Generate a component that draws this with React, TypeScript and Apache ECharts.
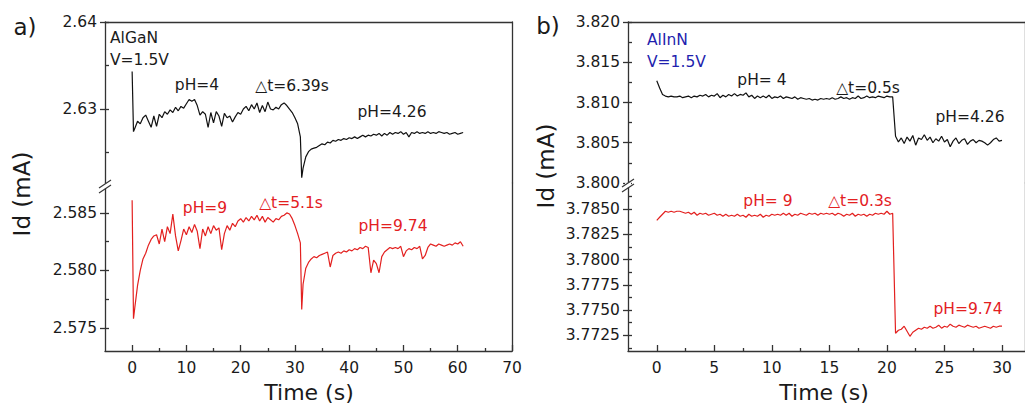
import React, { useEffect, useRef } from "react";
import * as echarts from "echarts";

// ---------- data ----------
// Panel a) AlGaN, time in s
const timeA = [
  0, 0.25, 0.5, 1, 1.5, 2, 2.5, 3, 3.5, 4,
  4.5, 5, 5.5, 6, 6.5, 7, 7.5, 8, 8.5, 9,
  9.5, 10, 10.5, 11, 11.5, 12, 12.5, 13, 13.5, 14,
  14.5, 15, 15.5, 16, 16.5, 17, 17.5, 18, 18.5, 19,
  19.5, 20, 20.5, 21, 21.5, 22, 22.5, 23, 23.5, 24,
  24.5, 25, 25.5, 26, 26.5, 27, 27.5, 28, 28.5, 29,
  29.5, 30, 30.5, 31, 31.25, 31.5, 32, 32.5, 33, 33.5,
  34, 34.5, 35, 35.5, 36, 36.5, 37, 37.5, 38, 38.5,
  39, 39.5, 40, 40.5, 41, 41.5, 42, 42.5, 43, 43.5,
  44, 44.5, 45, 45.5, 46, 46.5, 47, 47.5, 48, 48.5,
  49, 49.5, 50, 50.5, 51, 51.5, 52, 52.5, 53, 53.5,
  54, 54.5, 55, 55.5, 56, 56.5, 57, 57.5, 58, 58.5,
  59, 59.5, 60, 60.5, 61,
];
// Id (mA), pH = 4 -> 4.26
const algaNpH4 = [
  2.6343, 2.6274, 2.6278, 2.6286, 2.6283, 2.629, 2.6293, 2.6286, 2.6279, 2.6292,
  2.628, 2.6294, 2.629, 2.6297, 2.6294, 2.6299, 2.6296, 2.6302, 2.6298, 2.6303,
  2.6301, 2.6306, 2.6311, 2.6309, 2.6311, 2.6304, 2.6293, 2.6297, 2.6294, 2.6279,
  2.6296, 2.6284, 2.6297, 2.6292, 2.628, 2.6295, 2.629, 2.6292, 2.6285, 2.6291,
  2.6296, 2.6294, 2.63, 2.6303, 2.6298, 2.6305, 2.63, 2.6307, 2.6296, 2.6304,
  2.6297, 2.6308, 2.63, 2.6299, 2.6302, 2.63, 2.6305, 2.6307, 2.6304, 2.63,
  2.6296, 2.629, 2.6283, 2.6268, 2.6221, 2.6232, 2.6245, 2.6251, 2.6254, 2.6255,
  2.6256, 2.6258, 2.626, 2.6259, 2.6262, 2.6261, 2.6264, 2.6263, 2.6265, 2.6264,
  2.6266, 2.6265, 2.6267, 2.6266, 2.6268, 2.6266, 2.6268, 2.627, 2.6268, 2.627,
  2.6269, 2.6271, 2.627, 2.6272, 2.6269, 2.6272, 2.627, 2.6273, 2.6271, 2.6273,
  2.6272, 2.6274, 2.6271, 2.6273, 2.6268, 2.6273, 2.6272, 2.6274, 2.6272, 2.6273,
  2.6272, 2.6274, 2.6272, 2.6273, 2.6272, 2.6274, 2.6273, 2.6272, 2.6273, 2.6271,
  2.6272, 2.6273, 2.6271, 2.6272, 2.6273,
];
// Id (mA), pH = 9 -> 9.74
const algaNpH9 = [
  2.5861, 2.5758, 2.5768, 2.5787, 2.58, 2.581, 2.5815, 2.5822, 2.5827, 2.583,
  2.5831, 2.5823, 2.5836, 2.5825, 2.5838, 2.5832, 2.5849, 2.583, 2.5817, 2.5826,
  2.5836, 2.5831, 2.5838, 2.5833, 2.584, 2.5834, 2.5819, 2.5836, 2.583, 2.5838,
  2.5832, 2.5839, 2.5835, 2.5837, 2.5818, 2.5832, 2.5839, 2.5835, 2.5841, 2.5838,
  2.5843, 2.5845, 2.5842, 2.5846, 2.5843, 2.5847, 2.5844, 2.5848, 2.5843, 2.5847,
  2.5842, 2.5846, 2.5844, 2.5842, 2.5845, 2.5844, 2.5847, 2.5848, 2.585, 2.5849,
  2.5845, 2.5839, 2.5832, 2.5824, 2.5766, 2.5788, 2.5802, 2.5807, 2.581, 2.5812,
  2.5811, 2.5813, 2.5814, 2.5815, 2.5816, 2.5803, 2.5813, 2.5815, 2.5816, 2.5815,
  2.5817, 2.5816, 2.5818, 2.5817, 2.5819, 2.5818, 2.582, 2.5819, 2.5821, 2.582,
  2.5798, 2.5809, 2.5806, 2.5798, 2.5812, 2.5816, 2.5818, 2.582, 2.5819, 2.582,
  2.5819, 2.5821, 2.5812, 2.5817, 2.5819, 2.5818, 2.582, 2.5819, 2.5821, 2.581,
  2.5813, 2.582, 2.5823, 2.5822, 2.5821, 2.5823, 2.5822, 2.5821, 2.5822, 2.5823,
  2.5822, 2.5824, 2.5823, 2.5825, 2.5821,
];

// Panel b) AlInN, time in s
const timeB = [
  0, 0.25, 0.5, 0.75, 1, 1.25, 1.5, 1.75,
  2, 2.25, 2.5, 2.75, 3, 3.25, 3.5, 3.75,
  4, 4.25, 4.5, 4.75, 5, 5.25, 5.5, 5.75,
  6, 6.25, 6.5, 6.75, 7, 7.25, 7.5, 7.75,
  8, 8.25, 8.5, 8.75, 9, 9.25, 9.5, 9.75,
  10, 10.25, 10.5, 10.75, 11, 11.25, 11.5, 11.75,
  12, 12.25, 12.5, 12.75, 13, 13.25, 13.5, 13.75,
  14, 14.25, 14.5, 14.75, 15, 15.25, 15.5, 15.75,
  16, 16.25, 16.5, 16.75, 17, 17.25, 17.5, 17.75,
  18, 18.25, 18.5, 18.75, 19, 19.25, 19.5, 19.75,
  20, 20.25, 20.5, 20.75, 21, 21.25, 21.5, 21.75,
  22, 22.25, 22.5, 22.75, 23, 23.25, 23.5, 23.75,
  24, 24.25, 24.5, 24.75, 25, 25.25, 25.5, 25.75,
  26, 26.25, 26.5, 26.75, 27, 27.25, 27.5, 27.75,
  28, 28.25, 28.5, 28.75, 29, 29.25, 29.5, 29.75,
  30,
];
const alInNpH4 = [
  3.8127, 3.8118, 3.811, 3.8108, 3.8107, 3.8108, 3.8107, 3.8107,
  3.8108, 3.8106, 3.8107, 3.8108, 3.8106, 3.8108, 3.8107, 3.8109,
  3.8108, 3.811, 3.8107, 3.8109, 3.8108, 3.8111, 3.8106, 3.8109,
  3.8107, 3.811, 3.8108, 3.8111, 3.8108, 3.811, 3.8109, 3.8112,
  3.8107, 3.8109, 3.8105, 3.8108, 3.8106, 3.8108, 3.8106, 3.8109,
  3.8105, 3.8107, 3.8106, 3.8108, 3.8105, 3.8107, 3.8106, 3.8105,
  3.8107, 3.8104, 3.8106, 3.8105, 3.8104, 3.8105, 3.8103, 3.8104,
  3.8103, 3.8105, 3.8104, 3.8105, 3.8104, 3.8106, 3.8104, 3.8105,
  3.8107, 3.8105, 3.8106, 3.8104, 3.8106, 3.8105, 3.8108, 3.8105,
  3.8106, 3.8108, 3.8106, 3.8107, 3.8106, 3.8108, 3.8107, 3.8106,
  3.8108, 3.8107, 3.8107, 3.8058, 3.8051, 3.8056, 3.8049, 3.8057,
  3.8052, 3.8059, 3.8047, 3.8056, 3.8054, 3.806, 3.8053, 3.8057,
  3.805, 3.8055, 3.8052, 3.8058, 3.8051, 3.8054, 3.8045, 3.8052,
  3.8056, 3.8049, 3.8053, 3.8055, 3.8048, 3.8052, 3.8054, 3.805,
  3.8053, 3.8052, 3.805, 3.8047, 3.805, 3.8054, 3.8056, 3.8052,
  3.8053,
];
const alInNpH9 = [
  3.7839, 3.7842, 3.7845, 3.7848, 3.7847, 3.7848, 3.7847, 3.7848,
  3.7848, 3.7847, 3.7846, 3.7847, 3.7845, 3.7847, 3.7844, 3.7846,
  3.7845, 3.7846, 3.7844, 3.7845, 3.7846, 3.7844, 3.7845, 3.7843,
  3.7845, 3.7843, 3.7844, 3.7843, 3.7845, 3.7843, 3.7844, 3.7842,
  3.7845, 3.7843, 3.7844, 3.7843, 3.7845, 3.7842, 3.7844, 3.7843,
  3.7845, 3.7844, 3.7845, 3.7844, 3.7846, 3.7844, 3.7846, 3.7843,
  3.7845, 3.7844, 3.7846, 3.7845, 3.7844, 3.7846, 3.7845, 3.7846,
  3.7844, 3.7846, 3.7845, 3.7846, 3.7845, 3.7846, 3.7844, 3.7846,
  3.7845, 3.7843, 3.7845, 3.7844, 3.7846, 3.7843, 3.7845, 3.7844,
  3.7845, 3.7843, 3.7845, 3.7844, 3.7846, 3.7845, 3.7846, 3.7845,
  3.7848, 3.7845, 3.7846, 3.7727, 3.773, 3.7731, 3.7734, 3.7729,
  3.7724, 3.7728, 3.773, 3.7732, 3.7731, 3.7733, 3.7732, 3.7734,
  3.7732, 3.7733, 3.7735, 3.7732, 3.7734, 3.7733, 3.7736, 3.7734,
  3.7733, 3.7735, 3.7734, 3.7733, 3.7735, 3.7734, 3.7733, 3.7734,
  3.7732, 3.7733, 3.7734, 3.7733, 3.7732, 3.7734, 3.7733, 3.7734,
  3.7734,
];

// tick values
const xTicksA = [0, 10, 20, 30, 40, 50, 60, 70];
const xMinorA = [5, 15, 25, 35, 45, 55, 65];
const xTicksB = [0, 5, 10, 15, 20, 25, 30];
const xMinorB = [2.5, 7.5, 12.5, 17.5, 22.5, 27.5];
const yTicksATop = [2.63, 2.64];
const yMinorATop = [2.625, 2.635];
const yTicksABot = [2.575, 2.58, 2.585];
const yMinorABot = [2.5775, 2.5825];
const yTicksBTop = [3.8, 3.805, 3.81, 3.815, 3.82];
const yMinorBTop = [3.8025, 3.8075, 3.8125, 3.8175];
const yTicksBBot = [3.7725, 3.775, 3.7775, 3.78, 3.7825, 3.785];
const yMinorBBot = [3.77125, 3.77375, 3.77625, 3.77875, 3.78125, 3.78375, 3.78625];

// ---------- styling ----------
const AXC = "#333333";
const TXT = "#1a1a1a";
const RED = "#e3201f";
const BLUE = "#1f1fae";
const FONT = "DejaVu Sans";
const TICKFS = 15.5;

const zip = (t: number[], v: number[]) => {
  const n = Math.min(t.length, v.length);
  const out: number[][] = [];
  for (let i = 0; i < n; i++) out.push([t[i], v[i]]);
  return out;
};

function buildOption() {
  const grids = [
    { left: 105, top: 22, width: 407, height: 161 },
    { left: 105, top: 183, width: 407, height: 168 },
    { left: 628, top: 22, width: 403, height: 161 },
    { left: 628, top: 183, width: 403, height: 168 },
  ];
  const specs = [
    { xmin: -5, xmax: 70, xt: xTicksA, xm: xMinorA, ymin: 2.6215, ymax: 2.64, yt: yTicksATop, ym: yMinorATop, dec: 2, bottom: false },
    { xmin: -5, xmax: 70, xt: xTicksA, xm: xMinorA, ymin: 2.573, ymax: 2.5876, yt: yTicksABot, ym: yMinorABot, dec: 3, bottom: true },
    { xmin: -2.5, xmax: 32, xt: xTicksB, xm: xMinorB, ymin: 3.8, ymax: 3.82, yt: yTicksBTop, ym: yMinorBTop, dec: 3, bottom: false },
    { xmin: -2.5, xmax: 32, xt: xTicksB, xm: xMinorB, ymin: 3.77094, ymax: 3.7876, yt: yTicksBBot, ym: yMinorBBot, dec: 4, bottom: true },
  ];
  const line = { color: AXC, width: 1.3 };
  const xAxis: any[] = [];
  const yAxis: any[] = [];
  const mainX: number[] = [];
  const mainY: number[] = [];
  specs.forEach((s, g) => {
    mainX.push(xAxis.length);
    xAxis.push({
      gridIndex: g, type: "value", min: s.xmin, max: s.xmax, position: "bottom",
      splitLine: { show: false },
      axisLine: { show: s.bottom, onZero: false, lineStyle: line },
      axisTick: { show: s.bottom, inside: true, length: 6, customValues: s.xt, lineStyle: line },
      axisLabel: { show: s.bottom, customValues: s.xt, margin: 9, fontFamily: FONT, fontSize: TICKFS, color: TXT },
    });
    if (s.bottom) {
      xAxis.push({
        gridIndex: g, type: "value", min: s.xmin, max: s.xmax, position: "bottom",
        splitLine: { show: false },
        axisLine: { show: false, onZero: false },
        axisTick: { show: true, inside: true, length: 3, customValues: s.xm, lineStyle: line },
        axisLabel: { show: false },
      });
    } else {
      xAxis.push({
        gridIndex: g, type: "value", min: s.xmin, max: s.xmax, position: "top",
        splitLine: { show: false },
        axisLine: { show: true, onZero: false, lineStyle: line },
        axisTick: { show: false },
        axisLabel: { show: false },
      });
    }
    mainY.push(yAxis.length);
    yAxis.push({
      gridIndex: g, type: "value", min: s.ymin, max: s.ymax, position: "left",
      splitLine: { show: false },
      axisLine: { show: true, onZero: false, lineStyle: line },
      axisTick: { show: true, inside: false, length: 5, customValues: s.yt, lineStyle: line },
      axisLabel: {
        show: true, customValues: s.yt, margin: 8, fontFamily: FONT, fontSize: TICKFS, color: TXT,
        formatter: (v: number) => Number(v).toFixed(s.dec),
      },
    });
    yAxis.push({
      gridIndex: g, type: "value", min: s.ymin, max: s.ymax, position: "left",
      splitLine: { show: false },
      axisLine: { show: false, onZero: false },
      axisTick: { show: true, inside: true, length: 4, customValues: [...s.yt, ...s.ym], lineStyle: line },
      axisLabel: { show: false },
    });
    yAxis.push({
      gridIndex: g, type: "value", min: s.ymin, max: s.ymax, position: "right",
      splitLine: { show: false },
      axisLine: { show: true, onZero: false, lineStyle: line },
      axisTick: { show: false },
      axisLabel: { show: false },
    });
  });

  const mk = (g: number, data: number[][], color: string) => ({
    type: "line", xAxisIndex: mainX[g], yAxisIndex: mainY[g], data,
    showSymbol: false, symbol: "none", lineStyle: { color, width: 1.2 }, itemStyle: { color },
    clip: true, silent: true,
  });
  const series = [
    mk(0, zip(timeA, algaNpH4), "#111111"),
    mk(1, zip(timeA, algaNpH9), RED),
    mk(2, zip(timeB, alInNpH4), "#111111"),
    mk(3, zip(timeB, alInNpH9), RED),
  ];

  const txt = (x: number, y: number, text: string, fill: string, size = 15.5, align = "center", rotation = 0) => ({
    type: "text", x, y, rotation, z: 100,
    style: { text, fill, fontFamily: FONT, fontSize: size, textAlign: align, textVerticalAlign: "middle" },
  });
  const seg = (x1: number, y1: number, x2: number, y2: number, stroke = AXC, w = 1.2) => ({
    type: "line", z: 101, shape: { x1, y1, x2, y2 }, style: { stroke, lineWidth: w },
  });
  const graphic = [
    txt(25, 27, "a)", TXT, 23),
    txt(548, 26, "b)", TXT, 23),
    txt(110, 38, "AlGaN", TXT, 15.5, "left"),
    txt(110, 60, "V=1.5V", TXT, 15.5, "left"),
    txt(197, 85, "pH=4", TXT),
    txt(292, 86, "\u25b3t=6.39s", TXT),
    txt(392, 112, "pH=4.26", TXT),
    txt(205, 208, "pH=9", RED),
    txt(291, 203, "\u25b3t=5.1s", RED),
    txt(393, 226, "pH=9.74", RED),
    txt(647, 40, "AlInN", BLUE, 15.5, "left"),
    txt(647, 62, "V=1.5V", BLUE, 15.5, "left"),
    txt(762, 80, "pH= 4", TXT),
    txt(868, 88, "\u25b3t=0.5s", TXT),
    txt(970, 117, "pH=4.26", TXT),
    txt(768, 201, "pH= 9", RED),
    txt(860, 201, "\u25b3t=0.3s", RED),
    txt(968, 309, "pH=9.74", RED),
    txt(309, 392, "Time (s)", TXT, 22),
    txt(824, 392, "Time (s)", TXT, 22),
    txt(22, 194, "Id (mA)", TXT, 23, "center", Math.PI / 2),
    txt(546, 166, "Id (mA)", TXT, 23, "center", Math.PI / 2),
    // axis break marks
    { type: "rect", z: 100, shape: { x: 102, y: 183.5, width: 6, height: 5 }, style: { fill: "#ffffff" } },
    seg(99, 188, 111, 180),
    seg(99, 193, 111, 185),
    { type: "rect", z: 100, shape: { x: 625, y: 182.5, width: 6, height: 5 }, style: { fill: "#ffffff" } },
    seg(622, 187, 634, 179),
    seg(622, 192, 634, 184),
  ];

  return {
    animation: false,
    backgroundColor: "#ffffff",
    textStyle: { fontFamily: FONT },
    grid: grids,
    xAxis,
    yAxis,
    series,
    graphic,
  };
}

export default function App() {
  const ref = useRef<HTMLDivElement>(null);
  useEffect(() => {
    if (!ref.current) return;
    const chart = echarts.init(ref.current, undefined, { renderer: "svg" });
    chart.setOption(buildOption() as any);
    return () => chart.dispose();
  }, []);
  return (
    <div
      ref={ref}
      style={{ position: "fixed", left: 0, top: 0, width: 1025, height: 410, overflow: "hidden", background: "#fff" }}
    />
  );
}
